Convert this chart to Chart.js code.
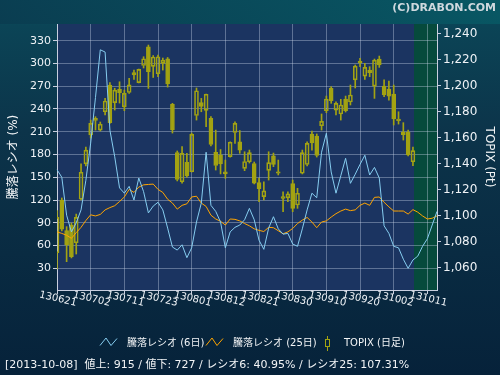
<!DOCTYPE html>
<html>
<head>
<meta charset="utf-8">
<script src="https://cdn.jsdelivr.net/npm/chart.js@4.4.0/dist/chart.umd.min.js"></script>
<style>
  html, body { margin: 0; padding: 0; background: #0b2a3c; }
</style>
</head>
<body>
<canvas id="Chart" width="500" height="375"></canvas>
<script>
//----- 騰落レシオ & TOPIX

const tickLabels = ['130621','130702','130711','130723','130801','130812','130821','130830','130910','130920','131002','131011'];

// 騰落レシオ (6日)
const ratio6 = [160,150,100,78,90,107,146,195,255,318,
  315,212,177,136,129,138,120,149,131,103,
  112,117,107,83,58,54,61,44,57,91,
  116,183,113,105,91,57,78,84,87,94,
  109,94,67,55,83,98,82,75,76,62,
  59,82,107,129,123,183,208,157,129,152,
  175,142,154,167,179,153,163,149,86,76,
  59,57,42,30,41,46,59,69,87,105];

// 騰落レシオ (25日)
const ratio25 = [78,76,73.5,69.5,77,84,93,100.5,99,101,
  107,110,112.5,118,124,134,130,137,140,140.5,
  141,134,130,121,116,108,113,115,124,125,
  116,111.5,100,95,92,87,95,94.5,92.5,89,
  86,82,80,78.5,84,83.5,79.5,75.5,78,82.5,
  89,93.5,97,91,83.5,91,92.5,97.5,102,105.5,
  108,106,107,113,116,113,123.5,124,117,111,
  105.5,105.5,105.5,101.5,107.3,104,99,95,96,99];

// TOPIX (日足)
const topixOpen = [1071.5,1112.1,1088.5,1092.9,1079.2,1112.7,1139.9,1162.2,1175.0,1166.0,
  1180.1,1200.7,1187.1,1197.4,1183.8,1194.9,1210.2,1202.6,1215.7,1230.2,
  1215.1,1209.4,1217.4,1220.9,1185.9,1148.7,1126.2,1141.2,1133.9,1177.2,
  1187.1,1181.2,1175.0,1148.9,1146.8,1133.9,1145.5,1164.1,1157.0,1136.5,
  1141.6,1140.2,1125.5,1114.7,1135.0,1146.2,1133.9,1114.7,1113.8,1124.8,
  1108.3,1132.7,1139.5,1163.0,1161.4,1169.3,1180.9,1198.1,1181.4,1178.4,
  1189.9,1187.6,1204.6,1218.9,1207.6,1212.2,1199.9,1220.7,1199.9,1197.6,
  1193.8,1174.5,1164.5,1164.5,1141.6];
const topixClose = [1098.8,1089.6,1077.5,1068.5,1098.8,1133.5,1150.6,1171.2,1173.4,1170.6,
  1188.4,1171.6,1196.8,1194.8,1194.3,1200.9,1208.4,1212.8,1220.9,1210.9,
  1222.3,1222.5,1219.9,1201.5,1166.3,1127.9,1148.1,1130.6,1162.7,1196.3,
  1184.3,1193.6,1154.9,1138.7,1139.9,1132.2,1156.6,1171.2,1150.6,1141.8,
  1148.6,1125.0,1120.8,1119.1,1140.9,1139.6,1132.7,1113.4,1116.9,1105.7,
  1117.3,1148.6,1155.8,1156.0,1146.4,1172.7,1189.9,1188.6,1186.6,1185.3,
  1180.9,1193.0,1215.3,1217.9,1214.3,1210.2,1219.9,1216.1,1193.0,1192.2,
  1174.5,1173.2,1162.4,1146.8,1150.1];
const topixHigh = [1103.9,1113.7,1091.6,1094.4,1101.3,1139.9,1152.9,1173.7,1176.3,1172.2,
  1190.4,1202.5,1198.2,1203.2,1196.8,1205.8,1212.2,1213.0,1222.5,1231.5,
  1223.4,1223.8,1221.5,1221.9,1186.6,1149.9,1153.2,1148.1,1163.7,1198.4,
  1190.4,1193.8,1176.3,1166.0,1151.0,1142.9,1157.0,1172.4,1165.6,1149.3,
  1150.6,1141.4,1129.1,1126.2,1149.3,1148.3,1142.9,1118.5,1118.5,1127.5,
  1121.1,1150.6,1157.0,1165.3,1163.0,1178.4,1192.2,1199.4,1187.8,1189.7,
  1192.2,1200.7,1216.1,1221.3,1217.4,1214.8,1220.7,1223.0,1204.6,1203.8,
  1200.7,1180.1,1171.7,1166.0,1152.9];
const topixLow = [1059.0,1088.3,1064.6,1067.5,1070.5,1112.1,1138.3,1159.9,1166.0,1165.3,
  1177.6,1171.2,1181.4,1186.8,1180.9,1194.3,1205.1,1202.3,1213.8,1198.1,
  1206.5,1207.1,1212.2,1199.1,1163.7,1126.8,1125.0,1129.8,1133.7,1173.7,
  1180.1,1168.6,1153.7,1135.2,1132.2,1128.8,1145.2,1155.8,1148.1,1134.7,
  1140.6,1124.5,1110.8,1112.1,1127.5,1137.8,1131.4,1103.1,1110.8,1103.1,
  1105.7,1132.2,1138.3,1150.6,1145.2,1166.0,1179.4,1186.6,1177.6,1173.7,
  1179.9,1185.3,1198.4,1214.8,1205.1,1207.1,1190.4,1214.3,1191.7,1189.1,
  1169.9,1170.6,1158.3,1146.0,1138.5];

const leftTicks = [30,60,90,120,150,180,210,240,270,300,330];
const rightTicks = [1060,1080,1100,1120,1140,1160,1180,1200,1220,1240];

const legendNames = ['騰落レシオ (6日)', '騰落レシオ (25日)', 'TOPIX (日足)'];
const footerText = '[2013-10-08]  値上: 915 / 値下: 727 / レシオ6: 40.95% / レシオ25: 107.31%';

// 色
const blueLine = '#86cdf0';
const orangeLine = '#ffa500';
const candleColor = '#a3a312';
const gridColor = 'rgba(205,215,235,0.38)';
const axisColor = '#c9cfdf';
const FONT = '"DejaVu Sans", "Noto Sans CJK JP", sans-serif';

// x 軸カテゴリ (7営業日ごとにラベル)
const days = [];
for (let i = 0; i < ratio6.length; i++) {
  days.push(i % 7 === 0 ? tickLabels[i / 7] : '');
}

const body = topixOpen.map((o, i) => [o, topixClose[i]]);
const upperWick = topixHigh.map((h, i) => [Math.max(topixOpen[i], topixClose[i]), h]);
const lowerWick = topixLow.map((l, i) => [l, Math.min(topixOpen[i], topixClose[i])]);
const bodyFill = topixOpen.map((o, i) => topixClose[i] < o ? candleColor : 'rgba(0,0,0,0)');

const lastDay = topixClose.length - 1;

const decoPlugin = {
  id: 'deco',
  beforeDraw(c) {
    const ctx = c.ctx, a = c.chartArea;
    ctx.save();
    let g = ctx.createLinearGradient(0, 0, 0, 375);
    g.addColorStop(0, '#0a5564');
    g.addColorStop(0.07, '#0b4456');
    g.addColorStop(0.35, '#0c344a');
    g.addColorStop(1, '#06223a');
    ctx.fillStyle = g;
    ctx.fillRect(0, 0, 500, 375);
    g = ctx.createLinearGradient(0, 0, 500, 0);
    g.addColorStop(0, 'rgba(10,60,80,0.9)');
    g.addColorStop(1, 'rgba(8,88,100,0.9)');
    ctx.fillStyle = g;
    ctx.fillRect(0, 0, 500, a.top);
    ctx.fillStyle = '#1b3461';
    ctx.fillRect(a.left, a.top, a.right - a.left, a.bottom - a.top);
    const gx = Math.round(c.scales.x.getPixelForTick(lastDay)) + 1;
    ctx.fillStyle = '#064a3c';
    ctx.fillRect(gx, a.top, a.right - gx, a.bottom - a.top);
    ctx.restore();
  },
  afterDraw(c) {
    const ctx = c.ctx, a = c.chartArea, xs = c.scales.x;
    ctx.save();
    // x ラベル
    ctx.fillStyle = '#eef2f6';
    ctx.font = '10px ' + FONT;
    ctx.textAlign = 'center';
    ctx.textBaseline = 'middle';
    tickLabels.forEach((t, k) => {
      ctx.save();
      ctx.translate(xs.getPixelForTick(k * 7) + 1, a.bottom + 9);
      ctx.rotate(13 * Math.PI / 180);
      ctx.fillText(t, 0, 0);
      ctx.restore();
    });
    // 凡例
    ctx.lineWidth = 1;
    const zig = (x0, col) => {
      ctx.strokeStyle = col;
      ctx.beginPath();
      ctx.moveTo(x0, 345.5);
      ctx.lineTo(x0 + 6, 338);
      ctx.lineTo(x0 + 11, 345.5);
      ctx.lineTo(x0 + 17, 338.5);
      ctx.stroke();
    };
    zig(100, blueLine);
    zig(206, orangeLine);
    ctx.strokeStyle = candleColor;
    ctx.beginPath();
    ctx.moveTo(327.5, 336); ctx.lineTo(327.5, 339.5);
    ctx.moveTo(327.5, 346.5); ctx.lineTo(327.5, 351);
    ctx.stroke();
    ctx.strokeRect(325.5, 339.5, 4, 7);
    ctx.fillStyle = '#f2f4f6';
    ctx.font = '10px ' + FONT;
    ctx.textAlign = 'left';
    ctx.fillText(legendNames[0], 127, 343.5);
    ctx.fillText(legendNames[1], 233, 343.5);
    ctx.fillText(legendNames[2], 344, 343.5);
    // フッター
    ctx.font = '11px ' + FONT;
    ctx.fillText(footerText, 5, 365.5);
    // コピーライト
    ctx.font = 'bold 11px ' + FONT;
    ctx.textAlign = 'right';
    ctx.fillStyle = '#cfd8de';
    ctx.fillText('(C)DRABON.COM', 496, 8);
    ctx.restore();
  }
};

const chart = document.getElementById('Chart').getContext('2d');
Chart.defaults.font.family = FONT;

const topixChart = new Chart(chart, {
  type: 'bar',
  data: {
    labels: days,
    datasets: [{
      type: 'line',
      label: legendNames[0],
      data: ratio6,
      yAxisID: 'y',
      borderColor: blueLine,
      borderWidth: 1,
      pointRadius: 0,
      tension: 0,
      order: 0
    }, {
      type: 'line',
      label: legendNames[1],
      data: ratio25,
      yAxisID: 'y',
      borderColor: orangeLine,
      borderWidth: 1,
      pointRadius: 0,
      tension: 0,
      order: 1
    }, {
      label: legendNames[2],
      data: body,
      yAxisID: 'y1',
      backgroundColor: bodyFill,
      borderColor: candleColor,
      borderWidth: 1,
      borderSkipped: false,
      barThickness: 4,
      grouped: false,
      order: 2
    }, {
      label: 'upper',
      data: upperWick,
      yAxisID: 'y1',
      backgroundColor: candleColor,
      barThickness: 1,
      grouped: false,
      order: 3
    }, {
      label: 'lower',
      data: lowerWick,
      yAxisID: 'y1',
      backgroundColor: candleColor,
      barThickness: 1,
      grouped: false,
      order: 3
    }]
  },
  options: {
    responsive: false,
    animation: false,
    layout: { padding: { top: 24, left: 0, right: 0, bottom: 0 } },
    plugins: { legend: { display: false }, tooltip: { enabled: false } },
    scales: {
      x: {
        type: 'category',
        offset: false,
        grid: {
          offset: false,
          color: (ctx) => (ctx.index % 7 === 0 ? gridColor : 'rgba(0,0,0,0)'),
          tickColor: (ctx) => (ctx.index % 7 === 0 ? axisColor : 'rgba(0,0,0,0)'),
          tickLength: 4
        },
        border: { color: axisColor, width: 1 },
        ticks: { display: false, autoSkip: false },
        afterFit: (s) => { s.height = 85; }
      },
      y: {
        position: 'left',
        min: 1.4,
        max: 352,
        afterBuildTicks: (s) => { s.ticks = leftTicks.map(v => ({ value: v })); },
        grid: { color: gridColor, tickColor: axisColor, tickLength: 4 },
        border: { color: axisColor, width: 1 },
        ticks: { color: '#eef2f6', font: { size: 11 }, padding: 2 },
        title: {
          display: true,
          text: '騰落レシオ (%)',
          color: '#f2f4f6',
          font: { size: 12 },
          padding: { top: 7, bottom: 0 }
        },
        afterFit: (s) => { s.width = 57; }
      },
      y1: {
        position: 'right',
        min: 1042.8,
        max: 1247.7,
        afterBuildTicks: (s) => { s.ticks = rightTicks.map(v => ({ value: v })); },
        grid: { drawOnChartArea: false, tickColor: axisColor, tickLength: 4 },
        border: { color: axisColor, width: 1 },
        ticks: {
          color: '#eef2f6',
          font: { size: 12 },
          padding: 2,
          callback: (v) => v.toLocaleString('en-US')
        },
        title: {
          display: true,
          text: 'TOPIX (Pt)',
          color: '#f2f4f6',
          font: { size: 12 },
          padding: { top: 4, bottom: 0 }
        },
        afterFit: (s) => { s.width = 63; }
      }
    }
  },
  plugins: [decoPlugin]
});
</script>
</body>
</html>
